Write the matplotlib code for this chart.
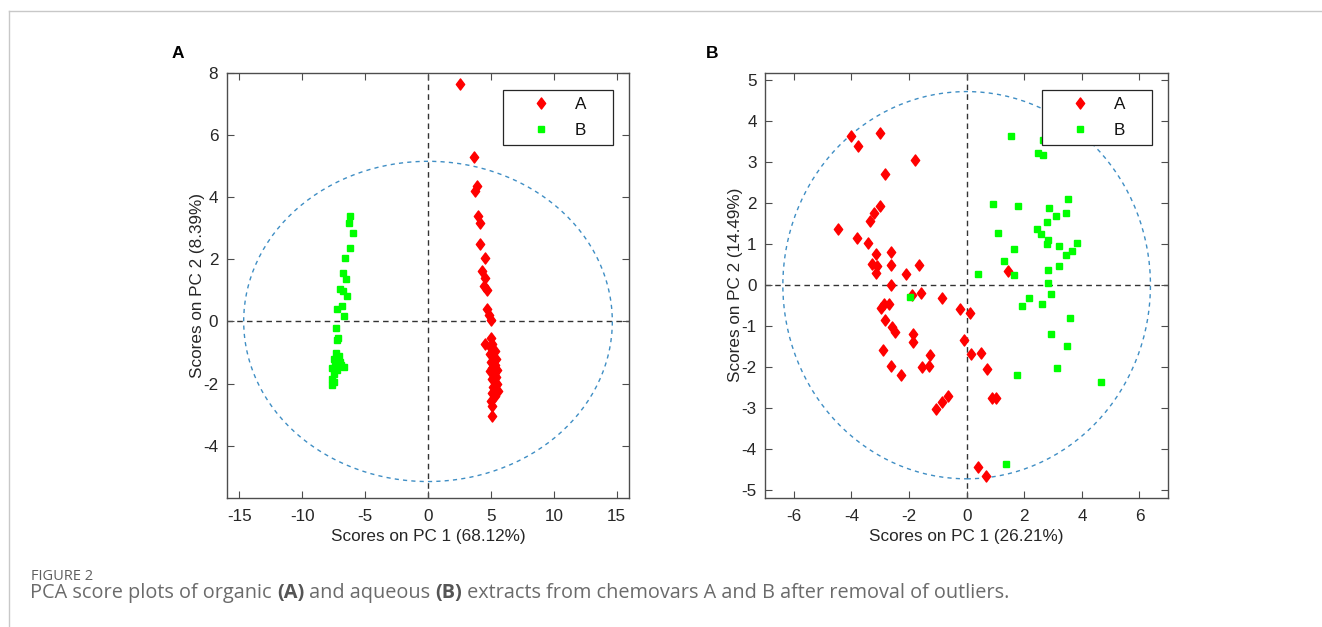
import numpy as np
import matplotlib
matplotlib.use("Agg")
import matplotlib.pyplot as plt
from matplotlib.patches import Ellipse
from matplotlib.lines import Line2D
from matplotlib.path import Path

plt.rcParams['font.family'] = ['Liberation Sans', 'DejaVu Sans']
plt.rcParams['axes.unicode_minus'] = False

# panel A: organic extracts (PC1 68.12 %, PC2 8.39 %)
organic_A = [(2.58, 7.65), (3.64, 5.30), (3.90, 4.37), (3.72, 4.21), (3.99, 3.39), (4.17, 3.17),
             (4.12, 2.50), (4.52, 2.03), (4.31, 1.62), (4.57, 1.40), (4.44, 1.14), (4.71, 1.00),
             (4.65, 0.39), (4.84, 0.22), (5.03, 0.03), (5.03, -0.52), (4.52, -0.72), (5.10, -0.74),
             (5.00, -0.85), (5.30, -0.95), (4.90, -1.05), (5.20, -1.15), (5.40, -1.20), (5.00, -1.30),
             (5.30, -1.40), (5.10, -1.50), (5.50, -1.55), (4.95, -1.60), (5.25, -1.70), (5.40, -1.80),
             (5.05, -1.85), (5.30, -1.95), (5.50, -2.00), (5.20, -2.10), (5.40, -2.20), (5.10, -2.30),
             (5.60, -2.25), (5.35, -2.40), (5.00, -2.55), (5.10, -2.72), (5.10, -3.04)]
organic_B = [(-6.20, 3.39), (-6.26, 3.17), (-5.94, 2.83), (-6.20, 2.35), (-6.60, 2.03), (-6.78, 1.56),
             (-6.52, 1.35), (-7.00, 1.05), (-6.74, 0.97), (-6.46, 0.81), (-6.86, 0.49), (-7.21, 0.39),
             (-6.68, 0.17), (-7.32, -0.20), (-7.18, -0.52), (-7.20, -0.60), (-7.30, -1.00), (-7.10, -1.10),
             (-7.50, -1.20), (-7.00, -1.30), (-7.40, -1.35), (-6.70, -1.45), (-6.90, -1.40), (-7.60, -1.50),
             (-7.20, -1.55), (-7.45, -1.70), (-7.60, -1.85), (-7.50, -1.95), (-7.65, -2.05)]

# panel B: aqueous extracts (PC1 26.21 %, PC2 14.49 %)
aqueous_A = [(-4.00, 3.64), (-3.77, 3.39), (-3.02, 3.72), (-1.81, 3.05), (-2.85, 2.71), (-3.01, 1.94),
             (-3.22, 1.76), (-3.36, 1.57), (-4.46, 1.37), (-3.79, 1.15), (-3.43, 1.04), (-3.13, 0.76),
             (-2.62, 0.82), (-3.27, 0.52), (-3.10, 0.46), (-3.16, 0.30), (-2.62, 0.50), (-2.09, 0.27),
             (-1.64, 0.50), (-2.64, 0.01), (-1.89, -0.23), (-1.58, -0.19), (-0.85, -0.30), (-2.99, -0.56),
             (-2.87, -0.45), (-2.70, -0.47), (-0.22, -0.58), (0.10, -0.68), (-2.85, -0.84), (-2.58, -1.03),
             (-2.47, -1.14), (-1.85, -1.20), (-1.85, -1.39), (-0.08, -1.34), (-2.91, -1.57), (0.15, -1.67),
             (0.50, -1.65), (-1.26, -1.71), (-2.61, -1.96), (-2.29, -2.18), (-1.54, -1.99), (-1.29, -1.98),
             (0.71, -2.04), (-0.64, -2.71), (-0.85, -2.84), (-1.08, -3.01), (0.88, -2.76), (1.03, -2.74),
             (0.38, -4.42), (0.67, -4.64), (1.45, 0.35)]
aqueous_B = [(1.54, 3.64), (2.65, 3.54), (2.47, 3.23), (2.66, 3.18), (0.90, 1.98), (1.78, 1.92),
             (3.53, 2.10), (2.86, 1.88), (3.09, 1.69), (3.45, 1.76), (2.78, 1.55), (1.09, 1.27),
             (2.44, 1.37), (2.58, 1.25), (2.82, 1.09), (2.80, 1.01), (3.22, 0.96), (3.82, 1.04),
             (3.65, 0.84), (3.45, 0.74), (1.63, 0.89), (1.30, 0.60), (1.65, 0.26), (0.38, 0.27),
             (2.84, 0.38), (3.21, 0.46), (2.82, 0.05), (2.92, -0.21), (2.18, -0.31), (1.92, -0.50),
             (2.61, -0.45), (3.59, -0.80), (2.93, -1.18), (3.50, -1.49), (3.13, -2.03), (1.74, -2.19),
             (4.66, -2.36), (1.35, -4.37), (-1.98, -0.29)]

# 95% confidence ellipse half-axes
ellipse_organic = (14.65, 5.15)
ellipse_aqueous = (6.38, 4.72)

labels_pc1 = ['Scores on PC 1 (68.12%)', 'Scores on PC 1 (26.21%)']
labels_pc2 = ['Scores on PC 2 (8.39%)', 'Scores on PC 2 (14.49%)']
group_names = ['A', 'B']

W, H = 1322, 627
fig = plt.figure(figsize=(W / 100, H / 100), dpi=100)

axA = fig.add_axes([226.7 / W, 1 - 497.7 / H, 402.6 / W, 425 / H])
axB = fig.add_axes([765 / W, 1 - 497.7 / H, 403.3 / W, 425 / H])

red = '#ff0000'
green = '#00ff00'
axcol = '#4d4d4d'
txtcol = '#262626'
fs = 12.3

# matlab style diamond (a bit wider than mpl 'd')
diamond = Path([(0, 1), (0.75, 0), (0, -1), (-0.75, 0), (0, 1)],
               [Path.MOVETO, Path.LINETO, Path.LINETO, Path.LINETO, Path.CLOSEPOLY])

panels = [
    (axA, organic_A, organic_B, ellipse_organic, (-16, 16), (-5.67, 8), np.arange(-15, 16, 5), np.arange(-4, 9, 2)),
    (axB, aqueous_A, aqueous_B, ellipse_aqueous, (-7, 7), (-5.18, 5.18), np.arange(-6, 7, 2), np.arange(-5, 6, 1)),
]

for i, (ax, ptsA, ptsB, ell, xl, yl, xt, yt) in enumerate(panels):
    pa = np.array(ptsA)
    pb = np.array(ptsB)
    ax.axhline(0, color='#333333', lw=1.0, ls=(0, (4, 3)), zorder=1)
    ax.axvline(0, color='#333333', lw=1.0, ls=(0, (4, 3)), zorder=1)
    e = Ellipse((0, 0), 2 * ell[0], 2 * ell[1], fill=False, edgecolor='#3f8ec4',
                lw=1.0, ls=(0, (3, 3)), zorder=2)
    ax.add_patch(e)
    ax.plot(pa[:, 0], pa[:, 1], ls='none', marker=diamond, color=red, ms=8, mec=red,
            label=group_names[0] + '    ', zorder=3)
    ax.plot(pb[:, 0], pb[:, 1], ls='none', marker='s', color=green, ms=5, mec=green,
            label=group_names[1] + '    ', zorder=3)
    ax.set_xlim(*xl)
    ax.set_ylim(*yl)
    ax.set_xticks(xt)
    ax.set_yticks(yt)
    ax.tick_params(direction='in', top=True, right=True, length=5, width=0.8,
                   colors=axcol, labelcolor=txtcol, labelsize=fs)
    ax.tick_params(axis='x', pad=8)
    ax.tick_params(axis='y', pad=6)
    for s in ax.spines.values():
        s.set_color(axcol)
        s.set_linewidth(1.0)
    ax.set_xlabel(labels_pc1[i], fontsize=fs, color=txtcol, labelpad=4)
    ax.set_ylabel(labels_pc2[i], fontsize=fs, color=txtcol, labelpad=-1)
    leg = ax.legend(loc='upper right', bbox_to_anchor=(0.96, 0.96), borderaxespad=0,
                    fancybox=False, framealpha=1, edgecolor=txtcol, fontsize=fs,
                    handlelength=3.6, handletextpad=0.2, borderpad=0.45, labelspacing=0.6,
                    numpoints=1)
    leg.get_frame().set_linewidth(0.9)
    for t in leg.get_texts():
        t.set_color('#111111')
    ax.set_zorder(2)

fig.text(178 / W, 1 - 53 / H, 'A', fontsize=12.5, fontweight='bold', ha='center', va='center')
fig.text(712 / W, 1 - 53 / H, 'B', fontsize=12.5, fontweight='bold', ha='center', va='center')

# outer frame (top and left rule)
fig.add_artist(Line2D([9 / W, 1.0], [1 - 10.5 / H, 1 - 10.5 / H], color='#c8c8c8', lw=1.0))
fig.add_artist(Line2D([9 / W, 9 / W], [0, 1 - 10.5 / H], color='#c8c8c8', lw=1.0))

capfont = ['Open Sans', 'DejaVu Sans']
capcol = '#6b6b6b'
fig.text(31 / W, 1 - 576 / H, 'FIGURE 2', fontsize=10.5, color='#5f5f5f', family=capfont, va='center')

pieces = [('PCA score plots of organic ', 'normal'), ('(A)', 'bold'), (' and aqueous ', 'normal'),
          ('(B)', 'bold'), (' extracts from chemovars A and B after removal of outliers.', 'normal')]
fig.canvas.draw()
rend = fig.canvas.get_renderer()
xpos = 30
for txt, wt in pieces:
    t = fig.text(xpos / W, 1 - 593 / H, txt, fontsize=14.3, color=capcol if wt == 'normal' else '#555555',
                 family=capfont, fontweight=wt, va='center')
    bb = t.get_window_extent(renderer=rend)
    xpos += bb.width

fig.savefig('out.png', dpi=100)
